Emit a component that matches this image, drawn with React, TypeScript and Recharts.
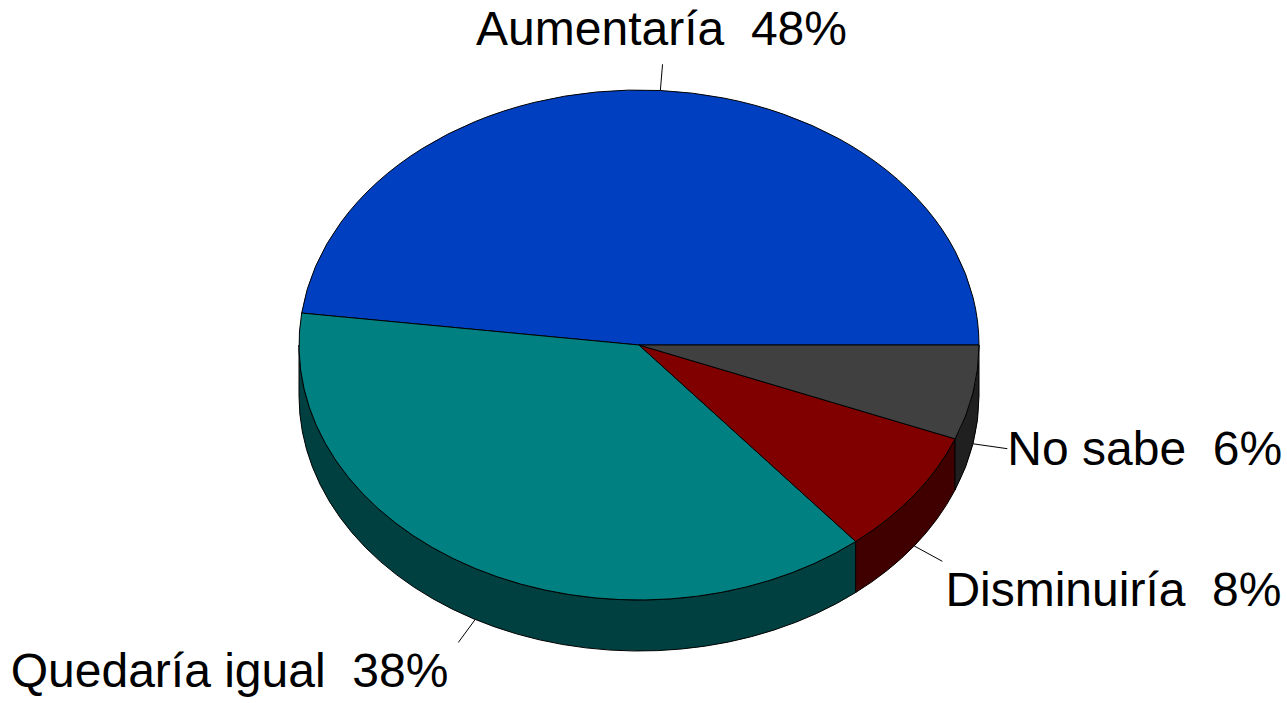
import { Cell, Pie, PieChart } from 'recharts'

const categories = ['Aumentaría', 'Quedaría igual', 'Disminuiría', 'No sabe']
const shares = [48, 38, 8, 6]
const colors = ['#0040c0', '#008080', '#800000', '#404040']

const data = categories.map((name, i) => ({ name, value: shares[i] }))

const TILT = 0.75
const DEPTH = 51
const RAD = Math.PI / 180

function darken(hex: string) {
  const n = parseInt(hex.slice(1), 16)
  const r = ((n >> 16) & 255) >> 1
  const g = ((n >> 8) & 255) >> 1
  const b = (n & 255) >> 1
  return `rgb(${r},${g},${b})`
}

function Slice3D(props: any) {
  const { cx, cy, outerRadius, startAngle, endAngle, fill } = props
  const rx = outerRadius
  const ry = outerRadius * TILT
  const pt = (a: number, dy = 0) => `${cx + rx * Math.cos(a * RAD)},${cy - ry * Math.sin(a * RAD) + dy}`
  const lo = Math.min(startAngle, endAngle)
  const hi = Math.max(startAngle, endAngle)
  const large = hi - lo > 180 ? 1 : 0
  const top = `M${cx},${cy} L${pt(lo)} A${rx},${ry} 0 ${large} 0 ${pt(hi)} Z`

  // front wall, only the part facing the viewer (180..360)
  const a1 = Math.max(lo, 180)
  const a2 = Math.min(hi, 360)
  let wall = ''
  if (a1 < a2) {
    wall = `M${pt(a1)} A${rx},${ry} 0 0 0 ${pt(a2)} L${pt(a2, DEPTH)} A${rx},${ry} 0 0 1 ${pt(a1, DEPTH)} Z`
  }

  return (
    <g>
      {wall && <path d={wall} fill={darken(fill)} stroke="#000" strokeWidth={1} />}
      <path d={top} fill={fill} stroke="#000" strokeWidth={1} />
    </g>
  )
}

function renderLabel(props: any) {
  const { cx, cy, outerRadius, midAngle, name, percent } = props
  const rx = outerRadius
  const ry = outerRadius * TILT
  const c = Math.cos(midAngle * RAD)
  const s = Math.sin(midAngle * RAD)
  const sx = cx + rx * c
  const sy = cy - ry * s + (s < 0 ? DEPTH : 0)
  const ex = sx + c * 35
  const ey = sy - s * 35 * TILT

  let tx = ex
  let ty = ey
  let anchor: 'start' | 'middle' | 'end' = 'start'
  if (s > 0.5) {
    anchor = 'middle'
    tx = ex - 1
    ty = ey - 19
  } else if (s < -0.5) {
    anchor = c > 0 ? 'start' : 'end'
    tx = c > 0 ? ex + 3 : ex - 10
    ty = ey + 45
  } else {
    anchor = c > 0 ? 'start' : 'end'
    tx = c > 0 ? ex : ex - 2
    ty = ey + 16
  }

  return (
    <g>
      <line x1={sx} y1={sy} x2={ex} y2={ey} stroke="#000" strokeWidth={1} />
      <text
        x={tx}
        y={ty}
        textAnchor={anchor}
        fill="#000"
        fontSize={48}
        fontFamily="'Liberation Sans', Arial, sans-serif"
        style={{ whiteSpace: 'pre' }}
      >
        {`${name}  ${Math.round(percent * 100)}%`}
      </text>
    </g>
  )
}

export default function App() {
  return (
    <div style={{ width: 1287, height: 703, background: '#fff' }}>
      <style>{'body{margin:0}'}</style>
      <PieChart width={1287} height={703} margin={{ top: 0, right: 0, bottom: 0, left: 0 }}>
        <Pie
          data={data}
          dataKey="value"
          nameKey="name"
          cx={639}
          cy={345}
          outerRadius={340}
          startAngle={0}
          endAngle={360}
          stroke="#000"
          shape={Slice3D}
          activeShape={Slice3D}
          inactiveShape={Slice3D}
          label={renderLabel}
          labelLine={false}
          isAnimationActive={false}
        >
          {data.map((d, i) => (
            <Cell key={d.name} fill={colors[i]} />
          ))}
        </Pie>
      </PieChart>
    </div>
  )
}
